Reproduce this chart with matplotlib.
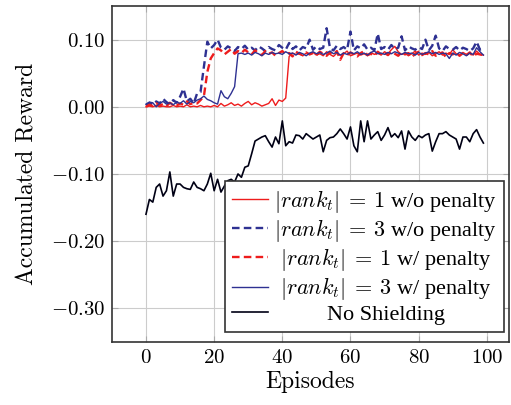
import matplotlib
matplotlib.use("Agg")
import matplotlib.pyplot as plt
import numpy as np

plt.rcParams['font.family'] = 'serif'
plt.rcParams['font.serif'] = ['cmr10', 'DejaVu Serif']
plt.rcParams['mathtext.fontset'] = 'cm'
plt.rcParams['axes.unicode_minus'] = False

episodes = np.arange(100)

# |rank_t| = 1 w/o penalty
rank1_wo = [
    0.000, 0.001, 0.000, 0.002, 0.000, 0.001, 0.000, 0.000, 0.002, 0.000,
    0.001, 0.000, 0.003, 0.000, 0.001, 0.000, 0.002, 0.000, 0.001, 0.000,
    0.002, 0.000, 0.005, 0.001, 0.003, 0.006, 0.002, 0.004, 0.001, 0.005,
    0.008, 0.003, 0.006, 0.004, 0.001, 0.003, 0.005, 0.012, 0.002, 0.010,
    0.008, 0.013, 0.075, 0.080, 0.078, 0.079, 0.076, 0.080, 0.078, 0.081,
    0.077, 0.079, 0.076, 0.082, 0.078, 0.075, 0.080, 0.077, 0.079, 0.083,
    0.076, 0.078, 0.080, 0.077, 0.079, 0.076, 0.081, 0.078, 0.080, 0.077,
    0.082, 0.079, 0.085, 0.090, 0.082, 0.078, 0.080, 0.076, 0.079, 0.083,
    0.077, 0.080, 0.078, 0.081, 0.076, 0.079, 0.082, 0.077, 0.080, 0.078,
    0.085, 0.079, 0.076, 0.081, 0.078, 0.080, 0.077, 0.083, 0.078, 0.077,
]

# |rank_t| = 3 w/o penalty
rank3_wo = [
    0.002, 0.006, 0.003, 0.008, 0.005, 0.012, 0.007, 0.004, 0.010, 0.006,
    0.015, 0.027, 0.008, 0.012, 0.005, 0.020, 0.022, 0.060, 0.097, 0.087,
    0.092, 0.100, 0.088, 0.085, 0.090, 0.087, 0.083, 0.089, 0.086, 0.091,
    0.085, 0.088, 0.084, 0.090, 0.087, 0.083, 0.089, 0.086, 0.084, 0.092,
    0.088, 0.085, 0.095, 0.086, 0.090, 0.084, 0.089, 0.087, 0.100, 0.085,
    0.090, 0.086, 0.088, 0.117, 0.087, 0.084, 0.091, 0.086, 0.089, 0.085,
    0.112, 0.084, 0.090, 0.087, 0.093, 0.085, 0.088, 0.084, 0.109, 0.086,
    0.089, 0.085, 0.092, 0.086, 0.088, 0.105, 0.084, 0.090, 0.087, 0.085,
    0.089, 0.086, 0.100, 0.084, 0.091, 0.106, 0.087, 0.083, 0.090, 0.086,
    0.085, 0.089, 0.084, 0.088, 0.086, 0.083, 0.087, 0.097, 0.085, 0.089,
]

# |rank_t| = 1 w/ penalty
rank1_w = [
    0.000, 0.003, 0.001, 0.005, 0.002, 0.004, 0.001, 0.006, 0.003, 0.002,
    0.005, 0.003, 0.008, 0.004, 0.006, 0.005, 0.010, 0.016, 0.052, 0.072,
    0.080, 0.087, 0.084, 0.078, 0.082, 0.086, 0.079, 0.083, 0.080, 0.085,
    0.081, 0.078, 0.084, 0.080, 0.077, 0.083, 0.079, 0.081, 0.076, 0.080,
    0.083, 0.078, 0.080, 0.075, 0.082, 0.079, 0.077, 0.081, 0.078, 0.080,
    0.077, 0.082, 0.079, 0.076, 0.081, 0.078, 0.083, 0.070, 0.080, 0.077,
    0.081, 0.078, 0.075, 0.080, 0.083, 0.077, 0.079, 0.076, 0.082, 0.078,
    0.080, 0.077, 0.082, 0.079, 0.076, 0.081, 0.078, 0.080, 0.074, 0.079,
    0.082, 0.077, 0.080, 0.078, 0.083, 0.076, 0.079, 0.081, 0.074, 0.080,
    0.078, 0.082, 0.076, 0.080, 0.077, 0.081, 0.075, 0.079, 0.078, 0.077,
]

# |rank_t| = 3 w/ penalty
rank3_w = [
    0.004, 0.007, 0.006, 0.000, 0.005, 0.008, 0.004, 0.006, 0.003, 0.007,
    0.005, 0.009, 0.004, 0.008, 0.006, 0.010, 0.012, 0.016, 0.011, 0.009,
    0.006, 0.004, 0.024, 0.015, 0.012, 0.020, 0.030, 0.079, 0.080, 0.078,
    0.080, 0.077, 0.081, 0.079, 0.076, 0.080, 0.078, 0.081, 0.079, 0.080,
    0.078, 0.082, 0.079, 0.080, 0.077, 0.081, 0.079, 0.076, 0.080, 0.082,
    0.079, 0.081, 0.078, 0.080, 0.083, 0.079, 0.081, 0.077, 0.080, 0.078,
    0.081, 0.079, 0.082, 0.078, 0.080, 0.077, 0.081, 0.083, 0.079, 0.080,
    0.078, 0.081, 0.079, 0.082, 0.080, 0.078, 0.081, 0.079, 0.080, 0.077,
    0.081, 0.078, 0.080, 0.082, 0.079, 0.081, 0.078, 0.080, 0.079, 0.072,
    0.080, 0.077, 0.081, 0.079, 0.076, 0.080, 0.078, 0.088, 0.082, 0.077,
]

# No Shielding
no_shield = [
    -0.160, -0.138, -0.142, -0.120, -0.115, -0.133, -0.125, -0.097, -0.133, -0.115,
    -0.115, -0.120, -0.122, -0.123, -0.112, -0.120, -0.122, -0.125, -0.115, -0.099,
    -0.125, -0.108, -0.127, -0.118, -0.110, -0.108, -0.112, -0.100, -0.105, -0.090,
    -0.088, -0.070, -0.051, -0.048, -0.045, -0.043, -0.052, -0.060, -0.045, -0.055,
    -0.021, -0.058, -0.052, -0.054, -0.042, -0.043, -0.048, -0.040, -0.044, -0.048,
    -0.045, -0.042, -0.067, -0.050, -0.046, -0.045, -0.040, -0.033, -0.040, -0.048,
    -0.030, -0.058, -0.067, -0.021, -0.052, -0.021, -0.048, -0.042, -0.037, -0.050,
    -0.042, -0.031, -0.045, -0.040, -0.046, -0.036, -0.063, -0.036, -0.045, -0.050,
    -0.043, -0.046, -0.042, -0.040, -0.066, -0.052, -0.040, -0.040, -0.037, -0.042,
    -0.045, -0.048, -0.063, -0.045, -0.045, -0.052, -0.040, -0.034, -0.045, -0.054,
]

xticks = [0, 20, 40, 60, 80, 100]
yticks = [0.10, 0.00, -0.10, -0.20, -0.30]
ytick_labels = [r'$0.10$', r'$0.00$', r'$-0.10$', r'$-0.20$', r'$-0.30$']

red = '#ee1c1c'
blue = '#2e3192'
dash = (0, (3.2, 1.8))

fig = plt.figure(figsize=(5.11, 4.05), dpi=100)
ax = fig.add_axes([0.219, 0.156, 0.777, 0.829])

ax.plot(episodes, rank1_wo, color=red, lw=1.0, label=r'$|rank_t|\:=\:1$ w/o penalty')
ax.plot(episodes, rank3_wo, color=blue, lw=1.7, ls=dash, label=r'$|rank_t|\:=\:3$ w/o penalty')
ax.plot(episodes, rank1_w, color=red, lw=1.7, ls=dash, label=r'$|rank_t|\:=\:1$ w/ penalty')
ax.plot(episodes, rank3_w, color=blue, lw=1.0, label=r'$|rank_t|\:=\:3$ w/ penalty')
ax.plot(episodes, no_shield, color='#000014', lw=1.2, label='No Shielding')

ax.set_xlim(-10, 106.5)
ax.set_ylim(-0.35, 0.15)
ax.set_xticks(xticks)
ax.set_xticklabels([f'${t}$' for t in xticks])
ax.set_yticks(yticks)
ax.set_yticklabels(ytick_labels)
ax.tick_params(labelsize=15, direction='in', length=4, color='#aaaaaa',
               top=True, right=True, pad=5)
ax.grid(True, color='#cccccc', lw=0.8)
ax.set_axisbelow(True)
for s in ax.spines.values():
    s.set_color('#333333')
    s.set_linewidth(1.2)

ax.set_xlabel('Episodes', fontsize=17, labelpad=3)
ax.set_ylabel('Accumulated Reward', fontsize=17, labelpad=9)

leg = ax.legend(loc='lower right', bbox_to_anchor=(0.987, 0.03), borderaxespad=0,
                fancybox=False, framealpha=1, edgecolor='#333333',
                prop={'family': 'Liberation Serif', 'size': 16},
                handlelength=1.6, handletextpad=0.3, labelspacing=0.1,
                borderpad=0.3)
leg.get_frame().set_linewidth(1.2)

# centre the legend entries within the text column
renderer = fig.canvas.get_renderer()
texts = leg.get_texts()
widths = [t.get_window_extent(renderer).width for t in texts]
wmax = max(widths)
for t, w in zip(texts, widths):
    t.set_x((wmax - w) / 2)

fig.savefig('out.png', dpi=100)
